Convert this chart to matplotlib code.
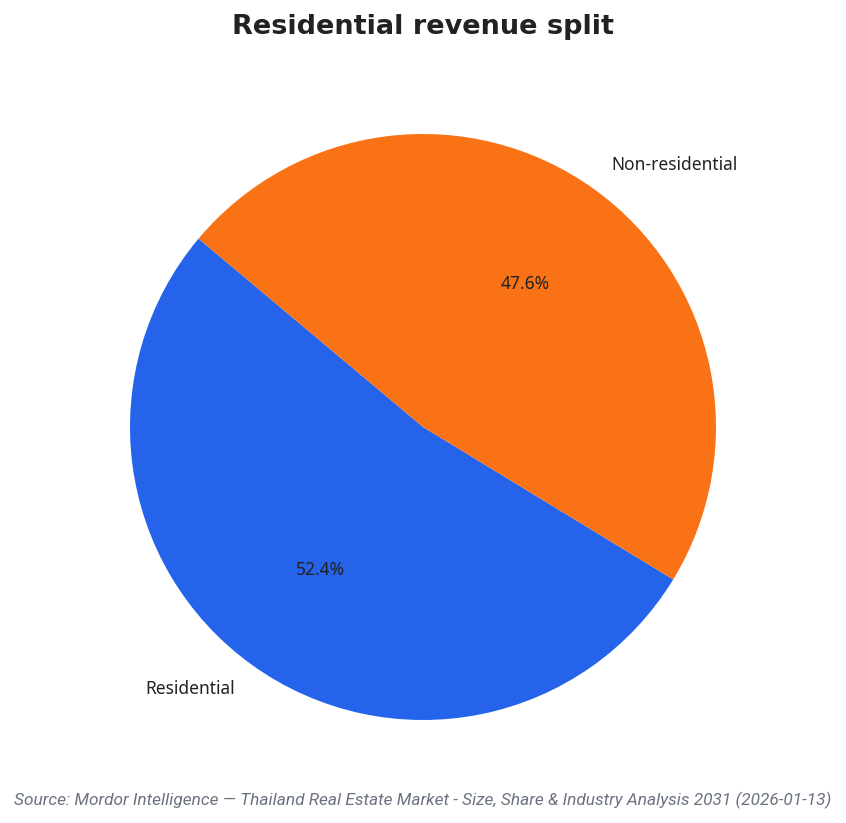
import matplotlib
matplotlib.use("Agg")
from matplotlib import pyplot as plt

labels = ["Residential", "Non-residential"]
shares = [52.4, 47.6]
colors = ["#2563EB", "#F97316"]

title = "Residential revenue split"
source = "Source: Mordor Intelligence \u2014 Thailand Real Estate Market - Size, Share & Industry Analysis 2031 (2026-01-13)"

plt.rcParams['font.family'] = ['Noto Sans', 'DejaVu Sans']

fig = plt.figure(figsize=(8.46, 8.23), dpi=100)
# pie centred near (423, 427) px, radius ~293 px
ax = fig.add_axes([0.5 - 293 / 846, (823 - 427 - 293) / 823, 586 / 846, 586 / 823])

wedges, texts, autotexts = ax.pie(
    shares, labels=labels, colors=colors, startangle=140,
    autopct="%1.1f%%", pctdistance=0.6, labeldistance=1.1,
    textprops={"fontsize": 12.5, "color": "#222222"},
)
ax.set_xlim(-1, 1)
ax.set_ylim(-1, 1)
ax.set_aspect("equal")

fig.text(0.5, 1 - 27 / 823, title, ha="center", va="center",
         fontsize=19.5, fontweight="bold", color="#222222", family="DejaVu Sans")
fig.text(0.5, 1 - 800 / 823, source, ha="center", va="center",
         fontsize=12.4, style="italic", color="#6B7280", family=["Roboto", "DejaVu Sans"])

fig.savefig("out.png", dpi=100)
